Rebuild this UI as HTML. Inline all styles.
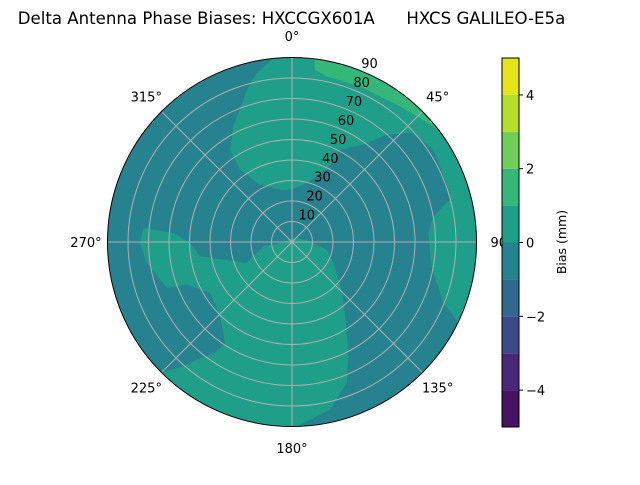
<!DOCTYPE html>
<html><head><meta charset="utf-8"><style>
body{margin:0;background:#fff}
text{font-family:"DejaVu Sans","Liberation Sans",sans-serif;fill:#000}
</style></head><body>
<svg id="c" width="640" height="480" xmlns="http://www.w3.org/2000/svg">
<text x="291.5" y="24" font-size="16.6" text-anchor="middle" style="white-space:pre">Delta Antenna Phase Biases: HXCCGX601A      HXCS GALILEO-E5a</text>
<g id="plot"></g>
<g id="cbar"></g>
<text transform="translate(566,242) rotate(-90)" font-size="12.5" text-anchor="middle">Bias (mm)</text>
</svg>
<script>
// data
const levels=[-5,-4,-3,-2,-1,0,1,2,3,4,5];
const levelColors=["#471365","#482878","#3e4989","#31688e","#26828e","#1f9e89","#35b779","#6ece58","#b5de2b","#e5e419"];
const cbarTicks=[-4,-2,0,2,4];
const ringTicks=[10,20,30,40,50,60,70,80,90];
const azTicks=[0,45,90,135,180,225,270,315];
const baseLevel=4; // -1..0 background
// contour regions: level index, rim arc [fromAz,toAz], then vertices [east,north] in zenith degrees
const regionA_level=5, regionA_rim=[-5.8,116];
const regionA_pts=[[77.9,-34.6],[73.8,-29.8],[68.1,-11.9],[66.5,4.4],[68.9,12.5],[77.1,20.7],[75.4,28.8],[68.9,45],[58.4,53.2],[46.2,52.4],[34.8,47.5],[23.4,45],[16.9,35.3],[7.2,28.8],[0,25.5],[-5.9,25.5],[-15.6,28],[-25.4,35.3],[-30.2,45],[-28.6,56.4],[-21.3,75.9],[-17.2,82.4]];
const regionB_level=5, regionB_rim=[178.5,225];
const regionB_pts=[[-53,-60.7],[-46.5,-57.4],[-37.6,-54.1],[-32.7,-49.3],[-35.1,-36.3],[-40,-24.9],[-51.4,-20.8],[-61.1,-22.4],[-70.9,-10.2],[-74.1,-0.5],[-72.5,6.8],[-57.9,4.4],[-49.8,-0.5],[-44.9,-7],[-22.1,-10.2],[-14,-2.1],[-5.9,-0.5],[0.7,2],[7.2,1.1],[16.9,-3.7],[20.2,-10.2],[24.2,-23.3],[25.9,-36.3],[27.5,-52.5],[26.7,-68.8],[18.5,-81.8]];
const regionC_level=6, regionC_rim=[6.9,55.7];
const regionC_pts=[[68.9,56.4],[52.7,66.2],[33.2,75.9],[16.9,80.8],[11.2,84.1]];

const NS="http://www.w3.org/2000/svg";
const cx=292,cy=242,R=184.5,maxZ=90;
const rs=z=>z/maxZ*R;
const pxy=(e,n)=>[cx+rs(e),cy-rs(n)];
const polar=(az,z)=>pxy(z*Math.sin(az*Math.PI/180),z*Math.cos(az*Math.PI/180));
function mk(t,a,p){const el=document.createElementNS(NS,t);for(const k in a)el.setAttribute(k,a[k]);(p||document.getElementById('plot')).appendChild(el);return el;}
let bg=mk('circle',{cx:cx,cy:cy,r:R,fill:levelColors[baseLevel]});


function region(name,lvl,rim,pts){
  const P=[];
  for(let a=rim[0];a<=rim[1];a+=1)P.push(polar(a,maxZ));
  P.push(polar(rim[1],maxZ));
  pts.forEach(p=>P.push(pxy(p[0],p[1])));
  const el=mk('polygon',{points:P.map(p=>p.join(',')).join(' '),fill:levelColors[lvl]});
  
  
}
region('contour-region-a',regionA_level,regionA_rim,regionA_pts);
region('contour-region-b',regionB_level,regionB_rim,regionB_pts);
region('contour-region-c',regionC_level,regionC_rim,regionC_pts);
// grid
ringTicks.forEach(z=>{
  const c=mk('circle',{cx:cx,cy:cy,r:rs(z),fill:'none',stroke:'#b0b0b0','stroke-width':1});
  
  
  const p=polar(22.5,z+5);
  const t=mk('text',{x:p[0]+3,y:p[1]+6,'font-size':13,'text-anchor':'middle'});
  t.textContent=z;
  
  
});
azTicks.forEach(a=>{
  const p=polar(a,maxZ);
  const l=mk('line',{x1:cx,y1:cy,x2:p[0],y2:p[1],stroke:'#b0b0b0','stroke-width':1});
  
  
  const q=polar(a,maxZ+10.5);
  const t=mk('text',{x:q[0]+(a==90?4:0),y:q[1]+5,'font-size':13,'text-anchor':'middle'});
  t.textContent=a+'°';
  
  
});
let border=mk('circle',{cx:cx,cy:cy,r:R,fill:'none',stroke:'#000','stroke-width':1});


// colorbar
const cb=document.getElementById('cbar');
const cbx=502,cbw=17,cbTop=58,cbBot=427;
const cbY=v=>cbBot-(v-levels[0])/(levels[levels.length-1]-levels[0])*(cbBot-cbTop);
levelColors.forEach((col,i)=>{
  const r=mk('rect',{x:cbx,y:cbY(levels[i+1]),width:cbw,height:cbY(levels[i])-cbY(levels[i+1]),fill:col},cb);
  
  
});
let fr=mk('rect',{x:cbx,y:cbTop,width:cbw,height:cbBot-cbTop,fill:'none',stroke:'#000','stroke-width':1},cb);


cbarTicks.forEach(v=>{
  const y=cbY(v);
  const l=mk('line',{x1:cbx+cbw,y1:y,x2:cbx+cbw+4,y2:y,stroke:'#000'},cb);
  
  
  const t=mk('text',{x:cbx+cbw+7,y:y+5,'font-size':13},cb);
  t.textContent=v<0?'\u2212'+(-v):String(v);
  
  
});
</script>
</body></html>
